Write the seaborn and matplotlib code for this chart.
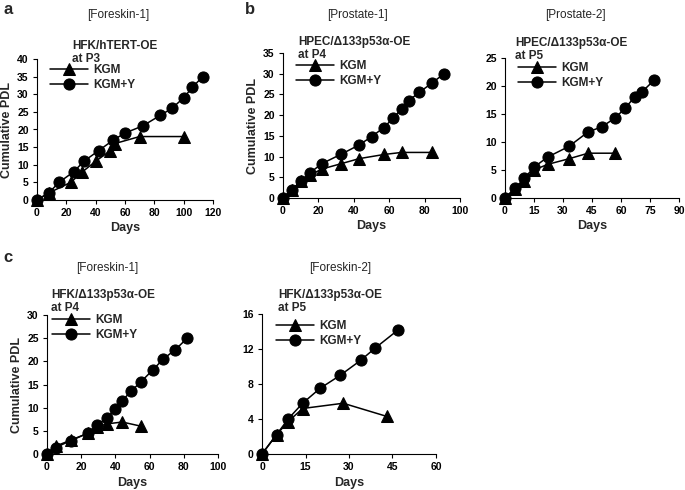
import matplotlib
matplotlib.use("Agg")
import matplotlib.pyplot as plt
import seaborn as sns
import pandas as pd

sns.set_theme(style="ticks")
plt.rcParams['font.family'] = ['Liberation Sans', 'DejaVu Sans']

# ---- data ----
a_kgm_x = [0, 8, 23, 31, 40, 50, 53, 70, 100]
a_kgm_y = [0, 2, 5, 8, 11, 14, 16, 18, 18]
a_kgy_x = [0, 8, 15, 25, 32, 42, 52, 60, 72, 84, 92, 100, 106, 113]
a_kgy_y = [0, 2, 5, 8, 11, 14, 17, 19, 21, 24, 26, 29, 32, 35]

b1_kgm_x = [0, 5, 10, 15, 22, 33, 43, 57, 67, 84]
b1_kgm_y = [0, 2, 4, 5.5, 7, 8.3, 9.5, 10.5, 11, 11]
b1_kgy_x = [0, 5, 10, 15, 22, 33, 43, 50, 57, 62, 67, 71, 77, 84, 91]
b1_kgy_y = [0, 2, 4, 6, 8.3, 10.6, 12.8, 14.8, 17, 19.2, 21.5, 23.5, 25.5, 27.7, 30]

b2_kgm_x = [0, 5, 10, 15, 22, 33, 43, 57]
b2_kgm_y = [0, 1.6, 3, 5, 6, 7, 8, 8]
b2_kgy_x = [0, 5, 10, 15, 22, 33, 43, 50, 57, 62, 67, 71, 77]
b2_kgy_y = [0, 1.7, 3.5, 5.5, 7.3, 9.2, 11.8, 12.7, 14.3, 16, 18, 19, 21]

c1_kgm_x = [0, 5, 14, 24, 29, 35, 44, 55]
c1_kgm_y = [0, 1.7, 3, 4.5, 5.8, 6.5, 6.9, 6]
c1_kgy_x = [0, 5, 14, 24, 29, 35, 40, 44, 49, 55, 62, 68, 75, 82]
c1_kgy_y = [0, 1.4, 2.9, 4.5, 6.2, 7.8, 9.7, 11.5, 13.5, 15.6, 18.2, 20.5, 22.5, 25]

c2_kgm_x = [0, 5, 9, 14, 28, 43]
c2_kgm_y = [0, 2.2, 3.7, 5.2, 5.8, 4.3]
c2_kgy_x = [0, 5, 9, 14, 20, 27, 34, 39, 47]
c2_kgy_y = [0, 2.2, 4, 5.8, 7.5, 9, 10.7, 12.1, 14.2]

titles = ["[Foreskin-1]", "[Prostate-1]", "[Prostate-2]", "[Foreskin-1]", "[Foreskin-2]"]
subtitles = ["HFK/hTERT-OE\nat P3", "HPEC/Δ133p53α-OE\nat P4", "HPEC/Δ133p53α-OE\nat P5",
             "HFK/Δ133p53α-OE\nat P4", "HFK/Δ133p53α-OE\nat P5"]

W, H = 685, 490
fig = plt.figure(figsize=(W / 100, H / 100), dpi=100)


def rect(x0, x1, ytop, ybot):
    return [x0 / W, 1 - ybot / H, (x1 - x0) / W, (ybot - ytop) / H]


panels = [
    dict(r=rect(37, 213, 59, 200), xmax=120, xstep=20, ymax=40, ystep=5,
         d=(a_kgm_x, a_kgm_y, a_kgy_x, a_kgy_y), ylabel=True,
         title=(118, 15), sub=(72, 40), leg=(44, 58)),
    dict(r=rect(283, 460, 53, 198), xmax=100, xstep=20, ymax=35, ystep=5,
         d=(b1_kgm_x, b1_kgm_y, b1_kgy_x, b1_kgy_y), ylabel=True,
         title=(357, 15), sub=(298, 36), leg=(290, 54)),
    dict(r=rect(505, 679, 58, 198), xmax=90, xstep=15, ymax=25, ystep=5,
         d=(b2_kgm_x, b2_kgm_y, b2_kgy_x, b2_kgy_y), ylabel=False,
         title=(575, 15), sub=(515, 37), leg=(512, 56)),
    dict(r=rect(47, 218, 315, 454), xmax=100, xstep=20, ymax=30, ystep=5,
         d=(c1_kgm_x, c1_kgm_y, c1_kgy_x, c1_kgy_y), ylabel=True,
         title=(107, 268), sub=(51, 289), leg=(46, 308)),
    dict(r=rect(262, 436, 314, 454), xmax=60, xstep=15, ymax=16, ystep=4,
         d=(c2_kgm_x, c2_kgm_y, c2_kgy_x, c2_kgy_y), ylabel=False,
         title=(340, 268), sub=(278, 289), leg=(270, 314)),
]

for i, p in enumerate(panels):
    ax = fig.add_axes(p["r"])
    kx, ky, yx, yy = p["d"]
    sns.lineplot(x=kx, y=ky, ax=ax, color="black", marker="^", markersize=8,
                 markeredgecolor="black", linewidth=1.1, label="KGM", clip_on=False, sort=False)
    sns.lineplot(x=yx, y=yy, ax=ax, color="black", marker="o", markersize=8,
                 markeredgecolor="black", linewidth=1.1, label="KGM+Y", clip_on=False, sort=False)
    ax.set_xlim(0, p["xmax"])
    ax.set_ylim(0, p["ymax"])
    ax.set_xticks(range(0, p["xmax"] + 1, p["xstep"]))
    ax.set_yticks(range(0, p["ymax"] + 1, p["ystep"]))
    sns.despine(ax=ax)
    for s in ["left", "bottom"]:
        ax.spines[s].set_linewidth(0.8)
        ax.spines[s].set_color("black")
    ax.tick_params(labelsize=7.5, length=3, width=0.8, colors="black", pad=3)
    for lab in ax.get_xticklabels() + ax.get_yticklabels():
        lab.set_fontweight("bold")
    ax.set_xlabel("Days", fontsize=9, fontweight="bold", labelpad=3)
    if p["ylabel"]:
        ax.set_ylabel("Cumulative PDL", fontsize=9, fontweight="bold", labelpad=3)
    else:
        ax.set_ylabel("")
    lx, ly = p["leg"]
    ax.legend(loc="upper left", bbox_to_anchor=(lx / W, 1 - ly / H),
              bbox_transform=fig.transFigure, frameon=False, handlelength=3.2,
              handletextpad=0.5, borderpad=0, labelspacing=0.25,
              prop=dict(weight="bold", size=8.5))
    tx, ty = p["title"]
    fig.text(tx / W, 1 - ty / H, titles[i], ha="center", va="center", fontsize=8.5)
    sx, sy = p["sub"]
    fig.text(sx / W, 1 - sy / H, subtitles[i], ha="left", va="top", fontsize=8.5,
             fontweight="bold", linespacing=1.1)

fig.text(3 / W, 1 - 10 / H, "a", fontsize=12, fontweight="bold", va="center")
fig.text(245 / W, 1 - 10 / H, "b", fontsize=12, fontweight="bold", va="center")
fig.text(3 / W, 1 - 257 / H, "c", fontsize=12, fontweight="bold", va="center")

fig.savefig("out.png", dpi=100)
